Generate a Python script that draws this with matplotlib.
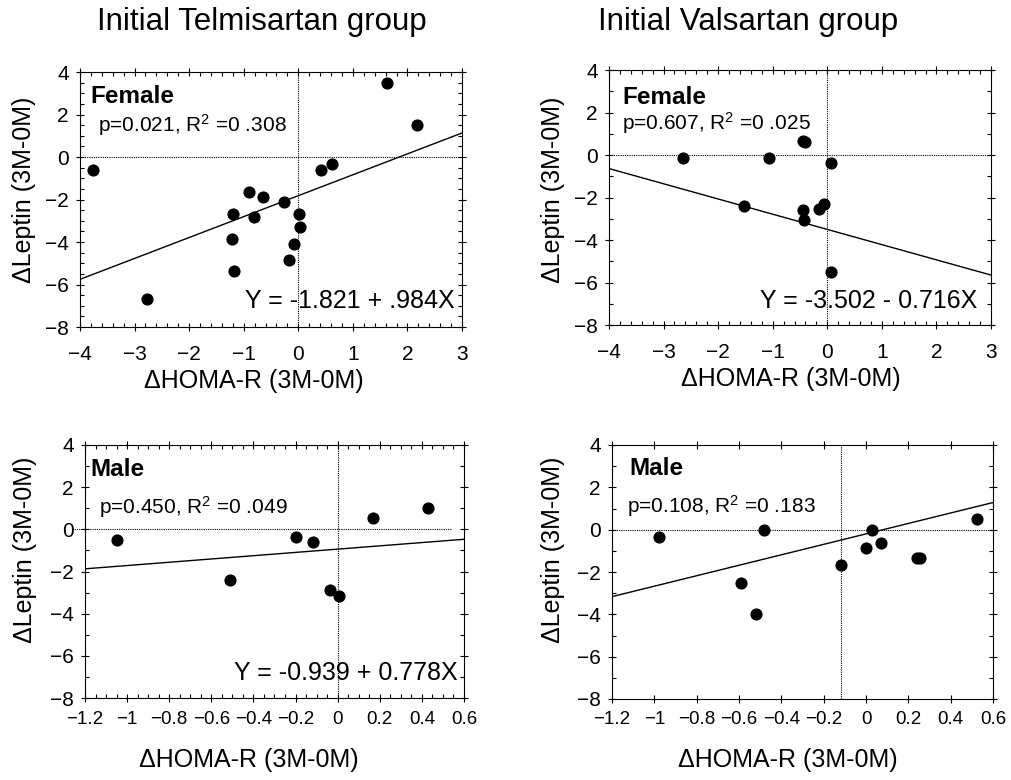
import matplotlib
matplotlib.use("Agg")
import matplotlib.pyplot as plt
import numpy as np
from matplotlib.ticker import MultipleLocator

plt.rcParams['font.family'] = ['Liberation Sans', 'DejaVu Sans']
plt.rcParams['mathtext.fontset'] = 'custom'
plt.rcParams['mathtext.rm'] = 'Liberation Sans'
plt.rcParams['mathtext.it'] = 'Liberation Sans'

# --- data ---
tel_f_x = [-3.77, -2.77, 1.63, 2.17, 0.41, 0.61, -0.90, -0.64, -0.27, -1.19,
           -0.81, 0.02, 0.04, -1.21, -0.07, -0.17, -1.17]
tel_f_y = [-0.61, -6.67, 3.50, 1.51, -0.61, -0.33, -1.66, -1.87, -2.10, -2.68,
           -2.81, -2.68, -3.28, -3.87, -4.11, -4.85, -5.35]

val_f_x = [-2.64, -1.06, -0.44, -0.41, 0.07, -1.53, -0.44, -0.43, -0.16, -0.06, 0.07]
val_f_y = [-0.13, -0.13, 0.66, 0.62, -0.36, -2.38, -2.60, -3.07, -2.53, -2.29, -5.49]

tel_m_x = [-1.05, -0.51, -0.20, -0.116, -0.037, 0.008, 0.166, 0.43]
tel_m_y = [-0.51, -2.39, -0.36, -0.62, -2.88, -3.18, 0.52, 1.03]

val_m_x = [-0.98, -0.59, -0.52, -0.48, -0.118, -0.002, 0.03, 0.07, 0.24, 0.255, 0.526]
val_m_y = [-0.37, -2.51, -3.99, 0.0, -1.65, -0.88, 0.0, -0.64, -1.36, -1.36, 0.51]

# regression lines (intercept, slope)
fits = [(-1.821, 0.984), (-3.502, -0.716), (-0.939, 0.778), (-0.20, 2.47)]

group_titles = ["Initial Telmisartan group", "Initial Valsartan group"]
sex_labels = ["Female", "Female", "Male", "Male"]
p_values = ["0.021", "0.607", "0.450", "0.108"]
r2_values = ["0 .308", "0 .025", "0 .049", "0 .183"]
eq_text = ["Y = -1.821 + .984X", "Y = -3.502 - 0.716X", "Y = -0.939 + 0.778X", None]

W, H = 1011, 780
fig = plt.figure(figsize=(W / 100, H / 100), dpi=100)


def px_axes(left, top, right, bottom):
    return fig.add_axes([left / W, 1 - bottom / H, (right - left) / W, (bottom - top) / H])


axes = [px_axes(80, 72, 462, 327), px_axes(609, 70, 991, 325),
        px_axes(85, 445, 464, 698), px_axes(612, 445, 993, 699)]
xs = [tel_f_x, val_f_x, tel_m_x, val_m_x]
ys = [tel_f_y, val_f_y, tel_m_y, val_m_y]
xlims = [(-4, 3), (-4, 3), (-1.2, 0.6), (-1.2, 0.6)]
xmajor = [1, 1, 0.2, 0.2]
xminor = [0.2, 0.2, 0.05, None]
yminor = [0.5, 1, 1, 1]
vline_x = [0, 0, 0, -0.118]
text_pos = [((0.026, 0.902), (0.047, 0.792), (0.982, 0.102)),
            ((0.034, 0.894), (0.034, 0.792), (0.963, 0.094)),
            ((0.013, 0.905), (0.037, 0.755), (0.982, 0.099)),
            ((0.045, 0.906), (0.039, 0.760), None)]

dotted = (0, (1, 1))

for i, ax in enumerate(axes):
    x0, x1 = xlims[i]
    ax.set_xlim(x0, x1)
    ax.set_ylim(-8, 4)

    # reference lines
    if i == 2:
        ax.plot([-1.26, 0.543], [0, 0], color='black', lw=0.8,
                linestyle=dotted, clip_on=False)
    else:
        ax.axhline(0, color='black', lw=0.8, linestyle=dotted)
    ax.axvline(vline_x[i], color='black', lw=0.8, linestyle=dotted)

    b0, b1 = fits[i]
    lx = np.array([x0, x1])
    ax.plot(lx, b0 + b1 * lx, color='black', lw=1.0)

    ax.scatter(xs[i], ys[i], s=60, color='black', zorder=3)

    ax.xaxis.set_major_locator(MultipleLocator(xmajor[i]))
    if xminor[i]:
        ax.xaxis.set_minor_locator(MultipleLocator(xminor[i]))
    ax.yaxis.set_major_locator(MultipleLocator(2))
    ax.yaxis.set_minor_locator(MultipleLocator(yminor[i]))
    ax.tick_params(which='major', direction='inout', length=6, width=0.8,
                   labelsize=15, top=True, right=True)
    ax.tick_params(which='minor', direction='in', length=3, width=0.8,
                   top=True, right=True)
    ax.tick_params(axis='x', pad=10 if i < 2 else 6)
    ax.tick_params(axis='y', pad=5)
    if i >= 2:
        ax.set_xticks(ax.get_xticks())
        ax.set_xticklabels([f"{v:.1f}".rstrip('0').rstrip('.').replace('-', '\u2212')
                            for v in ax.get_xticks()])
        ax.set_xlim(x0, x1)
        ax.tick_params(axis='x', labelsize=13.5)
    for s in ax.spines.values():
        s.set_linewidth(0.8)

    (fx, fy), (px, py), eq = text_pos[i]
    ax.text(fx, fy, sex_labels[i], transform=ax.transAxes, fontsize=17.5,
            fontweight='bold', ha='left', va='center')
    ax.text(px, py, f"p={p_values[i]}, R$^{{2}}$ ={r2_values[i]}",
            transform=ax.transAxes, fontsize=15, ha='left', va='center')
    if eq_text[i]:
        ax.text(eq[0], eq[1], eq_text[i], transform=ax.transAxes, fontsize=18,
                ha='right', va='center')

# titles and axis labels placed in pixels
fig.text(262 / W, 1 - 22 / H, group_titles[0], fontsize=22.5, ha='center', va='center')
fig.text(748 / W, 1 - 22 / H, group_titles[1], fontsize=22.5, ha='center', va='center')

for cx, cy in [(254, 381), (791, 379), (249, 760), (788, 760)]:
    fig.text(cx / W, 1 - cy / H, "ΔHOMA-R (3M-0M)", fontsize=18, ha='center', va='center')
for cx, cy in [(24, 190), (553, 190), (25, 550), (553, 550)]:
    fig.text(cx / W, 1 - cy / H, "ΔLeptin (3M-0M)", fontsize=18, ha='center',
             va='center', rotation=90)

fig.savefig("out.png", dpi=100)
